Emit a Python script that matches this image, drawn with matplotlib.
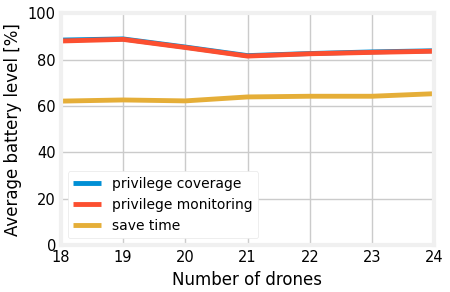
import matplotlib
matplotlib.use('Agg')
from matplotlib import pyplot as plt
from matplotlib import style

drones = [18, 19, 20, 21, 22, 23, 24]
privilege_coverage = [88.4, 88.9, 85.4, 81.7, 82.6, 83.3, 83.8]
privilege_monitoring = [88.0, 88.7, 85.2, 81.5, 82.5, 83.1, 83.6]
save_time = [62.1, 62.6, 62.2, 63.9, 64.2, 64.2, 65.3]

style.use('fivethirtyeight')
plt.rcParams['font.family'] = ['DejaVu Sans']

fig, ax = plt.subplots(figsize=(4.5, 2.92), dpi=100)
fig.patch.set_facecolor('white')
ax.set_facecolor('white')

ax.plot(drones, privilege_coverage, label='privilege coverage', linewidth=3.5)
ax.plot(drones, privilege_monitoring, label='privilege monitoring', linewidth=3.5)
ax.plot(drones, save_time, label='save time', linewidth=3.5)

ax.set_xlim(18, 24)
ax.set_ylim(0, 100)
ax.set_xticks(drones)
ax.set_yticks([0, 20, 40, 60, 80, 100])
ax.tick_params(labelsize=10.5)
ax.set_xlabel('Number of drones', fontsize=12)
ax.set_ylabel('Average battery level [%]', fontsize=12)

leg = ax.legend(loc='lower left', fontsize=10, facecolor='white', framealpha=1)
leg.get_frame().set_edgecolor('#e8e8e8')

plt.subplots_adjust(left=0.135, right=0.965, top=0.955, bottom=0.16)
plt.savefig('out.png', dpi=100, facecolor='white')
